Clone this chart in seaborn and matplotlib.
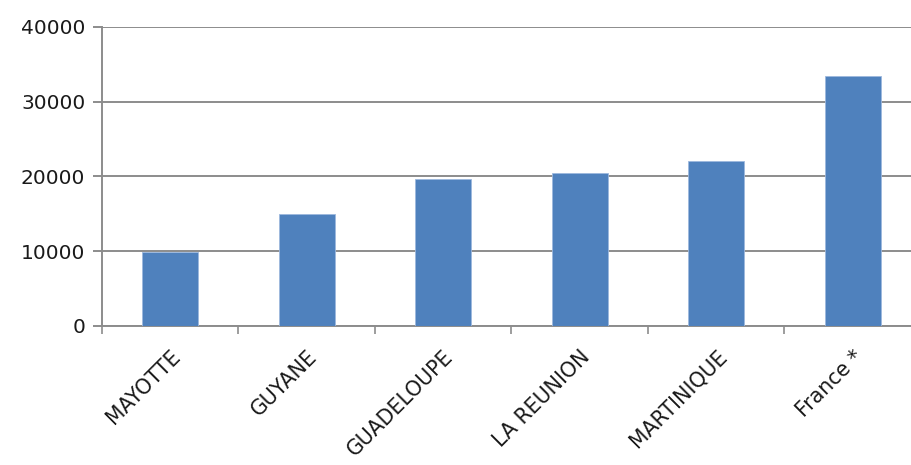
import matplotlib
matplotlib.use("Agg")
import matplotlib.pyplot as plt
import seaborn as sns
import pandas as pd

regions = ["MAYOTTE", "GUYANE", "GUADELOUPE", "LA REUNION", "MARTINIQUE", "France *"]
values = [9900, 14900, 19700, 20500, 22100, 33400]
y_ticks = [0, 10000, 20000, 30000, 40000]

sns.set_theme(style="white")
plt.rcParams["font.family"] = ["DejaVu Sans"]

df = pd.DataFrame({"region": regions, "value": values})

fig = plt.figure(figsize=(9.12, 4.65), dpi=100)
ax = fig.add_axes([0.1118, 0.2996, 0.898, 0.6424])

sns.barplot(data=df, x="region", y="value", color="#4F81BD", width=0.41,
            saturation=1, ax=ax, zorder=3, edgecolor="#9DB8DD", linewidth=0.6)

ax.set_ylim(0, 40000)
ax.set_xlim(-0.5, len(regions) - 0.5)
ax.set_yticks(y_ticks)
ax.set_yticklabels([str(v) for v in y_ticks], fontsize=14.5, color="#1a1a1a")
ax.yaxis.grid(True, color="#8C8C8C", linewidth=1.4, zorder=0)
ax.set_xlabel("")
ax.set_ylabel("")

# category boundary ticks on the x axis
ax.set_xticks([i - 0.5 for i in range(len(regions) + 1)], minor=True)
ax.tick_params(axis="x", which="minor", length=6, width=1.2, color="#8C8C8C", bottom=True)
ax.tick_params(axis="x", which="major", length=0, pad=15)
ax.set_xticks(range(len(regions)))
ax.set_xticklabels(regions, rotation=45, ha="right", rotation_mode="anchor",
                   fontsize=14.8, color="#1a1a1a")
ax.tick_params(axis="y", which="major", length=6.5, width=1.4, color="#8C8C8C", left=True, pad=5.5)

for side in ["top", "right"]:
    ax.spines[side].set_visible(False)
for side in ["left", "bottom"]:
    ax.spines[side].set_color("#8C8C8C")
    ax.spines[side].set_linewidth(1.4)

fig.savefig("out.png", dpi=100, facecolor="white")
